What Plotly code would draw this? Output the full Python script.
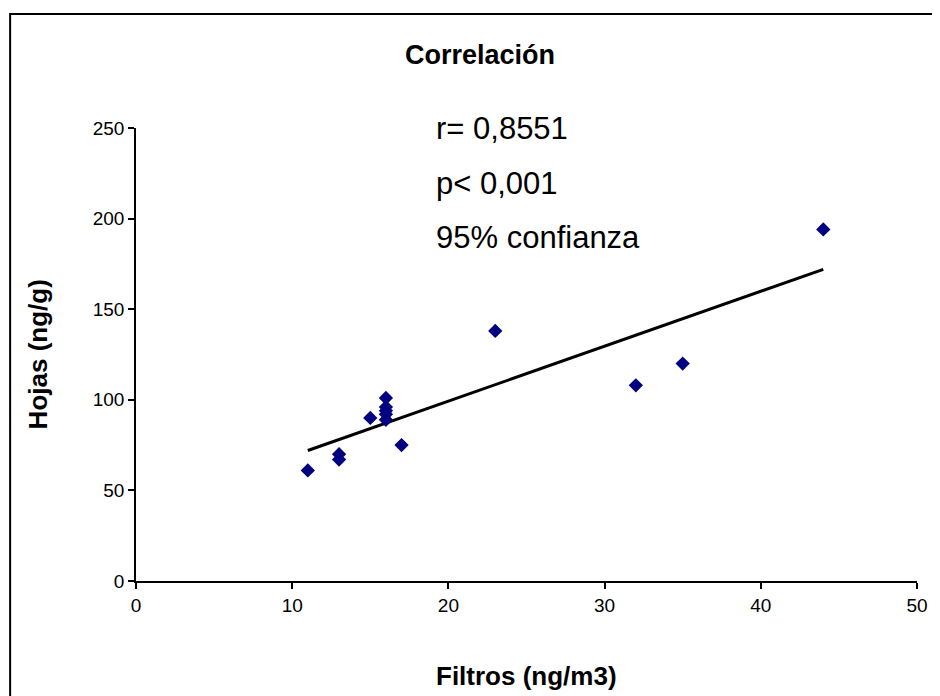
import plotly.graph_objects as go

# Data
filtros = [11, 13, 13, 15, 16, 16, 16, 16, 16, 17, 23, 32, 35, 44]
hojas = [61, 70, 67, 90, 101, 96, 94, 92, 89, 75, 138, 108, 120, 194]

trend_x = [11, 44]
trend_y = [72, 172]

x_ticks = [0, 10, 20, 30, 40, 50]
y_ticks = [0, 50, 100, 150, 200, 250]

stats_lines = ["r= 0,8551", "p< 0,001", "95% confianza"]
stats_y = [250, 219.6, 189.3]

FONT = "Liberation Sans, Arial, sans-serif"

# page has an 8px body margin; figure pixel = reference pixel - 8
W, H = 932, 688
L, T = 128, 120
PW, PH = 788, 453
R = W - L - PW
B = H - T - PH


def px(xr):
    return (xr - 8 - L) / PW


def py(yr):
    return (T + PH - (yr - 8)) / PH


fig = go.Figure()
fig.add_trace(go.Scatter(
    x=trend_x, y=trend_y, mode="lines",
    line=dict(color="black", width=3), hoverinfo="skip", showlegend=False))
fig.add_trace(go.Scatter(
    x=filtros, y=hojas, mode="markers",
    marker=dict(symbol="diamond", size=11, color="#000080",
                line=dict(width=0)),
    showlegend=False))

for txt, yv in zip(stats_lines, stats_y):
    fig.add_annotation(x=19.1, y=yv, xref="x", yref="y", text=txt,
                       showarrow=False, xanchor="left", yanchor="middle",
                       font=dict(family=FONT, size=31, color="black"))

# Title and axis titles
fig.add_annotation(x=px(483), y=py(55), xref="paper", yref="paper",
                   text="<b>Correlación</b>", showarrow=False,
                   xanchor="center", yanchor="middle",
                   font=dict(family=FONT, size=27, color="black"))
fig.add_annotation(x=0.5, y=py(676), xref="paper", yref="paper",
                   text="<b>Filtros (ng/m3)</b>", showarrow=False,
                   xanchor="center", yanchor="middle",
                   font=dict(family=FONT, size=26, color="black"))
fig.add_annotation(x=px(37), y=0.5, xref="paper", yref="paper",
                   text="<b>Hojas (ng/g)</b>", showarrow=False, textangle=-90,
                   xanchor="center", yanchor="middle",
                   font=dict(family=FONT, size=26, color="black"))

# Chart area border
fig.add_shape(type="rect", xref="paper", yref="paper",
              x0=px(9), x1=px(960),
              y0=py(720), y1=py(14),
              line=dict(color="black", width=2), fillcolor="rgba(0,0,0,0)",
              layer="below")

fig.update_xaxes(range=[0, 50], tickvals=x_ticks, showgrid=False, zeroline=False,
                 showline=True, linecolor="black", linewidth=1.5,
                 ticks="outside", ticklen=6, tickcolor="black", tickwidth=1.5,
                 tickfont=dict(family=FONT, size=19, color="black"))
fig.update_yaxes(range=[0, 250], tickvals=y_ticks, showgrid=False, zeroline=False,
                 showline=True, linecolor="black", linewidth=1.5,
                 ticks="outside", ticklen=6, tickcolor="black", tickwidth=1.5,
                 tickfont=dict(family=FONT, size=19, color="black"))

fig.update_layout(
    width=W, height=H,
    margin=dict(l=L, r=R, t=T, b=B),
    plot_bgcolor="white", paper_bgcolor="white",
    showlegend=False,
)

fig.write_html("out.html")
